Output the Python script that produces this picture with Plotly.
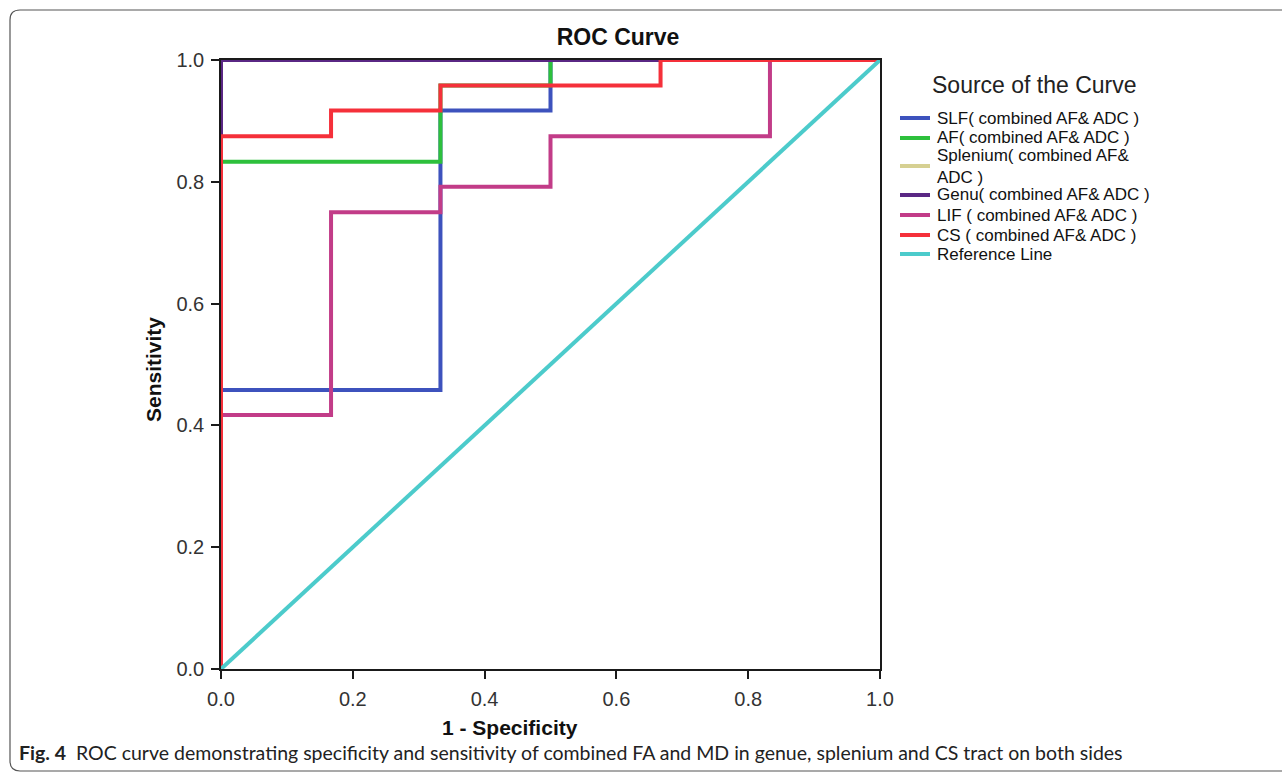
import plotly.graph_objects as go

W, H = 1282, 778
L, R, T, B = 221, 402, 60, 109
PW, PH = W - L - R, H - T - B

series_names = [
    "SLF( combined AF& ADC )",
    "AF( combined AF& ADC )",
    "Splenium( combined AF& ADC )",
    "Genu( combined AF& ADC )",
    "LIF ( combined AF& ADC )",
    "CS ( combined AF& ADC )",
    "Reference Line",
]
series_colors = ["#3d52bd", "#2dc03c", "#d6d092", "#5a2784", "#c23c88", "#f5303a", "#4ccbcb"]

slf_fpr = [0, 0, 0.333, 0.5, 1]
slf_tpr = [0, 0.458, 0.917, 1, 1]
af_fpr = [0, 0, 0.333, 0.5, 1]
af_tpr = [0, 0.833, 0.958, 1, 1]
spl_fpr = [0, 0, 1]
spl_tpr = [0, 1, 1]
genu_fpr = [0, 0, 1]
genu_tpr = [0, 1, 1]
lif_fpr = [0, 0, 0.167, 0.333, 0.5, 0.833, 1]
lif_tpr = [0, 0.417, 0.75, 0.792, 0.875, 1, 1]
cs_fpr = [0, 0, 0.167, 0.333, 0.667, 1]
cs_tpr = [0, 0.875, 0.917, 0.958, 1, 1]
ref_fpr = [0, 1]
ref_tpr = [0, 1]

xs = [slf_fpr, af_fpr, spl_fpr, genu_fpr, lif_fpr, cs_fpr, ref_fpr]
ys = [slf_tpr, af_tpr, spl_tpr, genu_tpr, lif_tpr, cs_tpr, ref_tpr]

tick_vals = [0.0, 0.2, 0.4, 0.6, 0.8, 1.0]
tick_text = ["0.0", "0.2", "0.4", "0.6", "0.8", "1.0"]

# legend labels (Splenium label wraps onto two lines as in the original)
legend_labels = [
    "SLF( combined AF& ADC )",
    "AF( combined AF& ADC )",
    "Splenium( combined AF&<br>ADC )",
    "Genu( combined AF& ADC )",
    "LIF ( combined AF& ADC )",
    "CS ( combined AF& ADC )",
    "Reference Line",
]
legend_row_y = [118, 138, 166, 195, 215, 235, 254]

FONT = "Liberation Sans, Arial, sans-serif"


def px(xp):
    return (xp - L) / PW


def py(yp):
    return (H - B - yp) / PH


fig = go.Figure()
for i, name in enumerate(series_names):
    fig.add_trace(go.Scatter(
        x=xs[i], y=ys[i], mode="lines", name=name,
        line=dict(color=series_colors[i], width=4,
                  shape="linear" if i == 6 else "hv"),
        cliponaxis=False, showlegend=False,
    ))

axis_common = dict(
    range=[0, 1], tickvals=tick_vals, ticktext=tick_text,
    showgrid=False, zeroline=False, showline=True, linecolor="#1a1a1a",
    linewidth=1.5, mirror=True, ticks="outside", ticklen=8, tickwidth=2,
    tickcolor="#1a1a1a", ticklabelstandoff=3,
    tickfont=dict(family=FONT, size=20, color="#333333"),
)

fig.update_layout(
    width=W, height=H,
    margin=dict(l=L, r=R, t=T, b=B),
    paper_bgcolor="white", plot_bgcolor="white",
    xaxis=dict(**axis_common),
    yaxis=dict(**axis_common),
    showlegend=False,
    title=dict(text="<b>ROC Curve</b>", x=px(618), xref="paper", xanchor="center",
               y=1 - 37 / H, yanchor="middle",
               font=dict(family=FONT, size=23, color="#111111")),
)

annotations = [
    dict(text="Source of the Curve", x=px(930), y=py(85), xref="paper", yref="paper",
         xanchor="left", yanchor="middle", showarrow=False,
         font=dict(family=FONT, size=23, color="#222222")),
    dict(text="<b>1 - Specificity</b>", x=px(510), y=py(727), xref="paper", yref="paper",
         xanchor="center", yanchor="middle", showarrow=False,
         font=dict(family=FONT, size=21, color="#111111")),
    dict(text="<b>Sensitivity</b>", x=px(153), y=py(370), xref="paper", yref="paper",
         xanchor="center", yanchor="middle", showarrow=False, textangle=-90,
         font=dict(family=FONT, size=21, color="#111111")),
    dict(text="<b>Fig. 4</b>  ROC curve demonstrating specificity and sensitivity of combined FA and MD in genue, splenium and CS tract on both sides",
         x=px(17), y=py(752), xref="paper", yref="paper",
         xanchor="left", yanchor="middle", showarrow=False,
         font=dict(family="Lato, Open Sans, sans-serif", size=19.5, color="#222222")),
]

shapes = []
for i, label in enumerate(legend_labels):
    yc = legend_row_y[i]
    shapes.append(dict(type="line", xref="paper", yref="paper",
                       x0=px(900), x1=px(930), y0=py(yc), y1=py(yc),
                       line=dict(color=series_colors[i], width=4)))
    annotations.append(dict(text=label, x=px(935), y=py(yc), xref="paper", yref="paper",
                            xanchor="left", yanchor="middle", align="left", showarrow=False,
                            font=dict(family=FONT, size=17, color="#111111")))

# rounded frame around the figure (open on the right)
r = 10
x0, y0, y1, xr = 10, 10, 771, 1300
path = (f"M {px(xr)},{py(y0)} L {px(x0 + r)},{py(y0)} "
        f"Q {px(x0)},{py(y0)} {px(x0)},{py(y0 + r)} "
        f"L {px(x0)},{py(y1 - r)} "
        f"Q {px(x0)},{py(y1)} {px(x0 + r)},{py(y1)} "
        f"L {px(xr)},{py(y1)}")
shapes.append(dict(type="path", path=path, xref="paper", yref="paper",
                   line=dict(color="#555555", width=1.2), layer="below"))

fig.update_layout(annotations=annotations, shapes=shapes)

fig.write_html("out.html")
